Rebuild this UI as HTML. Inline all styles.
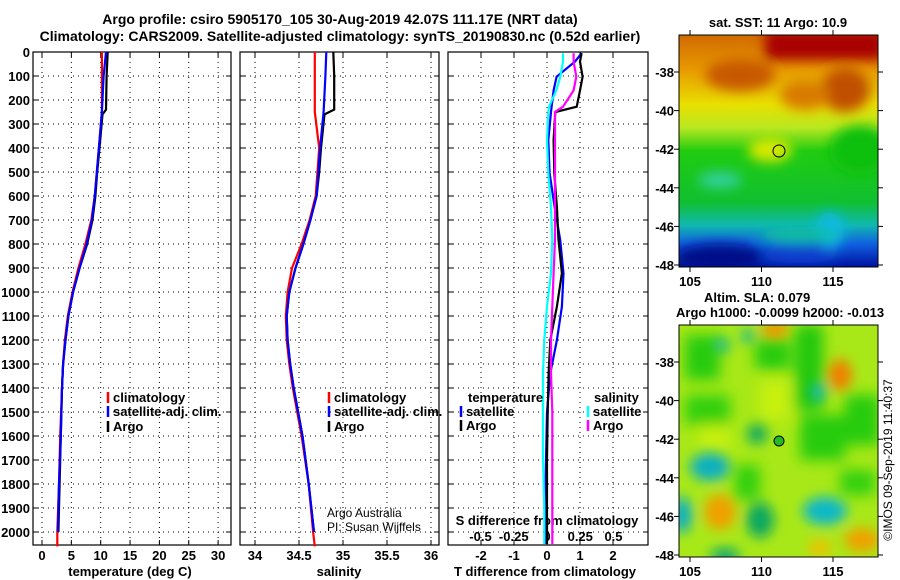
<!DOCTYPE html>
<html><head><meta charset="utf-8"><style>
body{margin:0;background:#fff;}
svg{display:block;font-family:"Liberation Sans",sans-serif;}
.b{font-weight:bold;font-size:13px;}
.t{font-weight:bold;font-size:14px;}
</style></head><body>
<svg id="fig" width="900" height="580" viewBox="0 0 900 580">
<defs>
<filter id="bl" x="-50%" y="-50%" width="200%" height="200%"><feGaussianBlur stdDeviation="6"/></filter>
<filter id="bl2" x="-50%" y="-50%" width="200%" height="200%"><feGaussianBlur stdDeviation="7"/></filter>
<linearGradient id="sst" x1="0" y1="0" x2="0" y2="1">
<stop offset="0" stop-color="#d06a00"/><stop offset="0.15" stop-color="#e89a00"/><stop offset="0.3" stop-color="#e8e000"/><stop offset="0.4" stop-color="#b8e820"/><stop offset="0.5" stop-color="#20cc10"/><stop offset="0.72" stop-color="#10c030"/><stop offset="0.82" stop-color="#10b8b0"/><stop offset="0.9" stop-color="#1060e0"/><stop offset="1" stop-color="#0010a0"/>
</linearGradient>
<clipPath id="c1"><rect x="679" y="35" width="199" height="232"/></clipPath>
<clipPath id="c2"><rect x="679" y="325" width="199" height="232"/></clipPath>
</defs>
<text class="t" x="340" y="24" text-anchor="middle">Argo profile: csiro 5905170_105 30-Aug-2019 42.07S 111.17E (NRT data)</text>
<text class="t" x="340" y="41" text-anchor="middle">Climatology: CARS2009. Satellite-adjusted climatology: synTS_20190830.nc (0.52d earlier)</text>

<g>
<g clip-path="url(#c1)">
<rect x="679" y="35" width="199" height="232" fill="url(#sst)"/>
<g filter="url(#bl)">
<rect x="765" y="30" width="120" height="30" fill="#a80000"/>
<ellipse cx="740" cy="75" rx="35" ry="16" fill="#c85800"/>
<ellipse cx="845" cy="90" rx="25" ry="22" fill="#c05000"/>
<ellipse cx="805" cy="95" rx="25" ry="15" fill="#d87a00"/>
<ellipse cx="770" cy="150" rx="22" ry="12" fill="#d8e800"/>
<ellipse cx="720" cy="180" rx="22" ry="8" fill="#30d0a0"/>
<ellipse cx="830" cy="230" rx="14" ry="18" fill="#10b8e8"/>
<ellipse cx="720" cy="258" rx="45" ry="14" fill="#000888"/>
<ellipse cx="800" cy="255" rx="40" ry="8" fill="#1040d0"/>
<ellipse cx="800" cy="235" rx="40" ry="8" fill="#10c0a0"/>
<ellipse cx="860" cy="150" rx="30" ry="25" fill="#10c010"/>
</g>
</g>
<rect x="679" y="35" width="199" height="232" fill="none" stroke="#000"/>
<circle cx="779" cy="151" r="6" fill="none" stroke="#000"/>
<text class="b" x="778" y="27" text-anchor="middle">sat. SST: 11 Argo: 10.9</text>
</g>

<g>
<g clip-path="url(#c2)">
<rect x="679" y="325" width="199" height="232" fill="#a8e818"/>
<g filter="url(#bl2)">
<rect x="685" y="335" width="35" height="45" fill="#28cc10"/>
<rect x="755" y="340" width="35" height="30" fill="#28cc10"/>
<rect x="795" y="325" width="28" height="85" fill="#20c810"/>
<rect x="685" y="395" width="45" height="30" fill="#30d010"/>
<rect x="800" y="415" width="45" height="45" fill="#28cc10"/>
<rect x="845" y="395" width="35" height="50" fill="#28cc10"/>
<rect x="735" y="465" width="25" height="35" fill="#30d010"/>
<rect x="840" y="470" width="35" height="25" fill="#30d010"/>
<rect x="760" y="380" width="30" height="40" fill="#c8f010"/>
<rect x="700" y="425" width="30" height="25" fill="#c8f010"/>
</g>
<g filter="url(#bl)">
<ellipse cx="775" cy="330" rx="14" ry="8" fill="#f09000"/>
<ellipse cx="722" cy="345" rx="7" ry="7" fill="#10b8a0"/>
<ellipse cx="748" cy="336" rx="7" ry="7" fill="#20b890"/>
<ellipse cx="840" cy="375" rx="12" ry="16" fill="#f08000"/>
<ellipse cx="818" cy="392" rx="7" ry="9" fill="#10b8c0"/>
<ellipse cx="757" cy="434" rx="10" ry="10" fill="#10a860"/>
<ellipse cx="710" cy="467" rx="20" ry="14" fill="#10b0c0"/>
<ellipse cx="720" cy="512" rx="16" ry="18" fill="#f0a000"/>
<ellipse cx="682" cy="515" rx="10" ry="18" fill="#10b0c0"/>
<ellipse cx="825" cy="511" rx="22" ry="14" fill="#10b8c8"/>
<ellipse cx="760" cy="520" rx="14" ry="18" fill="#10a860"/>
<ellipse cx="862" cy="540" rx="18" ry="12" fill="#f0a000"/>
<ellipse cx="820" cy="548" rx="12" ry="8" fill="#f0c000"/>
<ellipse cx="725" cy="556" rx="15" ry="8" fill="#10a870"/>
</g>
</g>
<rect x="679" y="325" width="199" height="232" fill="none" stroke="#000"/>
<circle cx="779" cy="441" r="5" fill="#22bb22" stroke="#000"/>
<text class="b" x="704" y="302">Altim. SLA: 0.079</text>
<text class="b" x="676" y="317">Argo h1000: -0.0099 h2000: -0.013</text>
</g>
<text x="892" y="460" font-size="12" text-anchor="middle" transform="rotate(-90 892 460)">©IMOS 09-Sep-2019 11:40:37</text>
<g id="dyn"></g>
</svg>
<script>
// ---- data ----
const depthTicks=[0,100,200,300,400,500,600,700,800,900,1000,1100,1200,1300,1400,1500,1600,1700,1800,1900,2000];
const tempTicks=[0,5,10,15,20,25,30];
const salTicks=[34,34.5,35,35.5,36];
const salTickLabels=["34","34.5","35","35.5","36"];
const tdiffTicks=[-2,-1,0,1,2];
const sdiffTicks=[-0.5,-0.25,0,0.25,0.5];
const sdiffTickLabels=["-0.5","-0.25","0","0.25","0.5"];
const lonTicks=[105,110,115];
const latTicks=[-38,-40,-42,-44,-46,-48];

const argoDepth=[0,100,240,260,400,500,600,700,800,900,1000,1100,1200,1300,1400,1600,1800,2000];
const argoTemp=[11.2,11.0,10.9,10.3,9.8,9.4,9.1,8.6,7.7,6.4,5.3,4.5,4.0,3.6,3.4,3.2,3.0,2.8];
const climDepth=[0,250,400,600,700,800,900,1000,1100,1200,1300,1400,1600,1800,2000,2060];
const climTemp=[10.2,10.2,9.7,9.0,8.4,7.4,6.2,5.2,4.4,3.9,3.6,3.4,3.1,2.9,2.6,2.6];
const satDepth=[0,100,250,400,600,700,800,900,1000,1100,1200,1300,1400,1600,1800,2000];
const satTemp=[10.9,10.5,10.2,9.7,9.0,8.5,7.6,6.4,5.3,4.5,4.0,3.6,3.4,3.2,2.9,2.7];

const argoSal=[34.89,34.90,34.90,34.79,34.75,34.73,34.70,34.63,34.55,34.46,34.39,34.36,34.37,34.40,34.44,34.54,34.61,34.67];
const climSal=[34.68,34.68,34.73,34.69,34.62,34.53,34.42,34.37,34.35,34.36,34.39,34.43,34.53,34.61,34.66,34.68];
const satSal=[34.81,34.80,34.78,34.74,34.70,34.63,34.55,34.46,34.39,34.36,34.37,34.40,34.44,34.54,34.61,34.67];

const diffDepth=[5,40,103,160,228,250,367,505,645,783,922,1061,1200,1339,1500,1700,1900,2050];
const tSatDiff=[1.05,0.85,0.29,0.2,0.14,0.12,0.04,0.08,0.23,0.4,0.5,0.45,0.3,0.1,0.0,-0.03,-0.05,-0.06];
const tArgoDiff=[1.05,1.0,1.08,1.0,0.9,0.25,0.2,0.22,0.3,0.35,0.45,0.3,0.1,0.05,0.02,0.0,0.0,0.0];
const sArgoDiff=[0.2,0.2,0.22,0.2,0.12,0.06,0.06,0.06,0.06,0.06,0.05,0.04,0.03,0.03,0.04,0.04,0.04,0.04];
const sSatDiff=[0.12,0.12,0.1,0.07,0.015,0.01,0.0,0.01,0.03,0.04,0.03,0.0,-0.02,-0.03,-0.03,-0.03,-0.02,-0.02];

// ---- layout ----
const NS="http://www.w3.org/2000/svg";
const root=document.getElementById('dyn');
const top0=52, pxPerM=0.24, bottom=545;
const yD=d=>top0+d*pxPerM;
const P1={x0:33,x1:231}, P2={x0:240,x1:439}, P3={x0:448,x1:648};
const xT=t=>42+t*5.87;
const xS=s=>255+(s-34)*88;
const xTd=v=>547+v*33;
const xSd=v=>547+v*133;
function mk(tag,attrs,parent){const e=document.createElementNS(NS,tag);for(const k in attrs)e.setAttribute(k,attrs[k]);(parent||root).appendChild(e);return e;}
function txt(x,y,s,cls,anchor,parent){const e=mk('text',{x:x,y:y,class:cls||'b','text-anchor':anchor||'start'},parent);e.textContent=s;return e;}

function panel(P,name,xs,xf){
  const g=mk('g',{});
  
  
  depthTicks.forEach(d=>{
    mk('line',{x1:P.x0,x2:P.x1,y1:yD(d),y2:yD(d),stroke:'#000','stroke-dasharray':'1,4','stroke-width':1},g);
    mk('line',{x1:P.x0,x2:P.x0+5,y1:yD(d),y2:yD(d),stroke:'#000'},g);
    mk('line',{x1:P.x1-5,x2:P.x1,y1:yD(d),y2:yD(d),stroke:'#000'},g);
  });
  xs.forEach(v=>{
    const x=xf(v);
    mk('line',{x1:x,x2:x,y1:top0,y2:bottom,stroke:'#000','stroke-dasharray':'1,4'},g);
    mk('line',{x1:x,x2:x,y1:bottom-5,y2:bottom,stroke:'#000'},g);
    mk('line',{x1:x,x2:x,y1:top0,y2:top0+5,stroke:'#000'},g);
  });
  mk('rect',{x:P.x0,y:top0,width:P.x1-P.x0,height:bottom-top0,fill:'none',stroke:'#000','stroke-width':1.2},g);
  return g;
}
function line(g,depths,vals,xf,color,name){
  let d='';
  for(let i=0;i<depths.length;i++){d+=(i?'L':'M')+xf(vals[i]).toFixed(1)+','+yD(depths[i]).toFixed(1);}
  const p=mk('path',{d:d,fill:'none',stroke:color,'stroke-width':2.2},g);
  
  
}
function legend(g,x,y,color,label,name){
  const l=mk('g',{},g);
  
  
  mk('line',{x1:x,x2:x,y1:y-10,y2:y+1,stroke:color,'stroke-width':2.5},l);
  txt(x+5,y,label,'b','start',l);
}

// panel 1
const g1=panel(P1,'temperature-panel',tempTicks,xT);
depthTicks.forEach(d=>{const t=txt(30,yD(d)+5,String(d),'b','end',g1);});
tempTicks.forEach(v=>txt(xT(v),560,String(v),'b','middle',g1));
txt(130,576,'temperature (deg C)','b','middle',g1);
line(g1,climDepth,climTemp,xT,'#ff0000','temp-climatology-line');
line(g1,argoDepth,argoTemp,xT,'#000000','temp-argo-line');
line(g1,satDepth,satTemp,xT,'#0000ff','temp-satellite-line');
legend(g1,108,402,'#ff0000','climatology','legend-climatology');
legend(g1,108,416,'#0000ff','satellite-adj. clim.','legend-satellite');
legend(g1,108,431,'#000000','Argo','legend-argo');

// panel 2
const g2=panel(P2,'salinity-panel',salTicks,xS);
salTicks.forEach((v,i)=>txt(xS(v),560,salTickLabels[i],'b','middle',g2));
txt(339,576,'salinity','b','middle',g2);
line(g2,climDepth,climSal,xS,'#ff0000','sal-climatology-line');
line(g2,argoDepth,argoSal,xS,'#000000','sal-argo-line');
line(g2,satDepth,satSal,xS,'#0000ff','sal-satellite-line');
legend(g2,329,402,'#ff0000','climatology','legend-climatology-2');
legend(g2,329,416,'#0000ff','satellite-adj. clim.','legend-satellite-2');
legend(g2,329,431,'#000000','Argo','legend-argo-2');
const c1=txt(327,517,'Argo Australia','n','start',g2);c1.setAttribute('font-size','12');
const c2=txt(327,531,'PI: Susan Wijffels','n','start',g2);c2.setAttribute('font-size','12');

// panel 3
const g3=panel(P3,'difference-panel',tdiffTicks,xTd);
tdiffTicks.forEach(v=>txt(xTd(v),560,String(v),'b','middle',g3));
txt(545,576,'T difference from climatology','b','middle',g3);
sdiffTicks.forEach((v,i)=>txt(xSd(v),541,sdiffTickLabels[i],'b','middle',g3));
txt(547,525,'S difference from climatology','b','middle',g3);
line(g3,diffDepth,tSatDiff,xTd,'#0000ff','tdiff-satellite-line');
line(g3,diffDepth,tArgoDiff,xTd,'#000000','tdiff-argo-line');
line(g3,diffDepth,sArgoDiff,xSd,'#ff00ff','sdiff-argo-line');
line(g3,diffDepth,sSatDiff,xSd,'#00ffff','sdiff-satellite-line');
txt(468,402,'temperature','b','start',g3);
legend(g3,461,416,'#0000ff','satellite','legend-t-satellite');
legend(g3,461,430,'#000000','Argo','legend-t-argo');
txt(594,402,'salinity','b','start',g3);
legend(g3,588,416,'#00ffff','satellite','legend-s-satellite');
legend(g3,588,430,'#ff00ff','Argo','legend-s-argo');

// map axes
const xLon=v=>690+(v-105)*14.3;
const yLat1=v=>72+(-38-v)*19.3;
const yLat2=v=>362+(-38-v)*19.3;
[[yLat1,267,35],[yLat2,557,325]].forEach(([yf,b,t])=>{
  const g=mk('g',{});
  
  
  lonTicks.forEach(v=>{mk('line',{x1:xLon(v),x2:xLon(v),y1:b,y2:b+5,stroke:'#000'},g);mk('line',{x1:xLon(v),x2:xLon(v),y1:t-5,y2:t,stroke:'#000'},g);txt(xLon(v),b+19,String(v),'b','middle',g);});
  latTicks.forEach(v=>{mk('line',{x1:674,x2:679,y1:yf(v),y2:yf(v),stroke:'#000'},g);mk('line',{x1:878,x2:883,y1:yf(v),y2:yf(v),stroke:'#000'},g);txt(674,yf(v)+5,String(v),'b','end',g);});
});
</script>
</body></html>
